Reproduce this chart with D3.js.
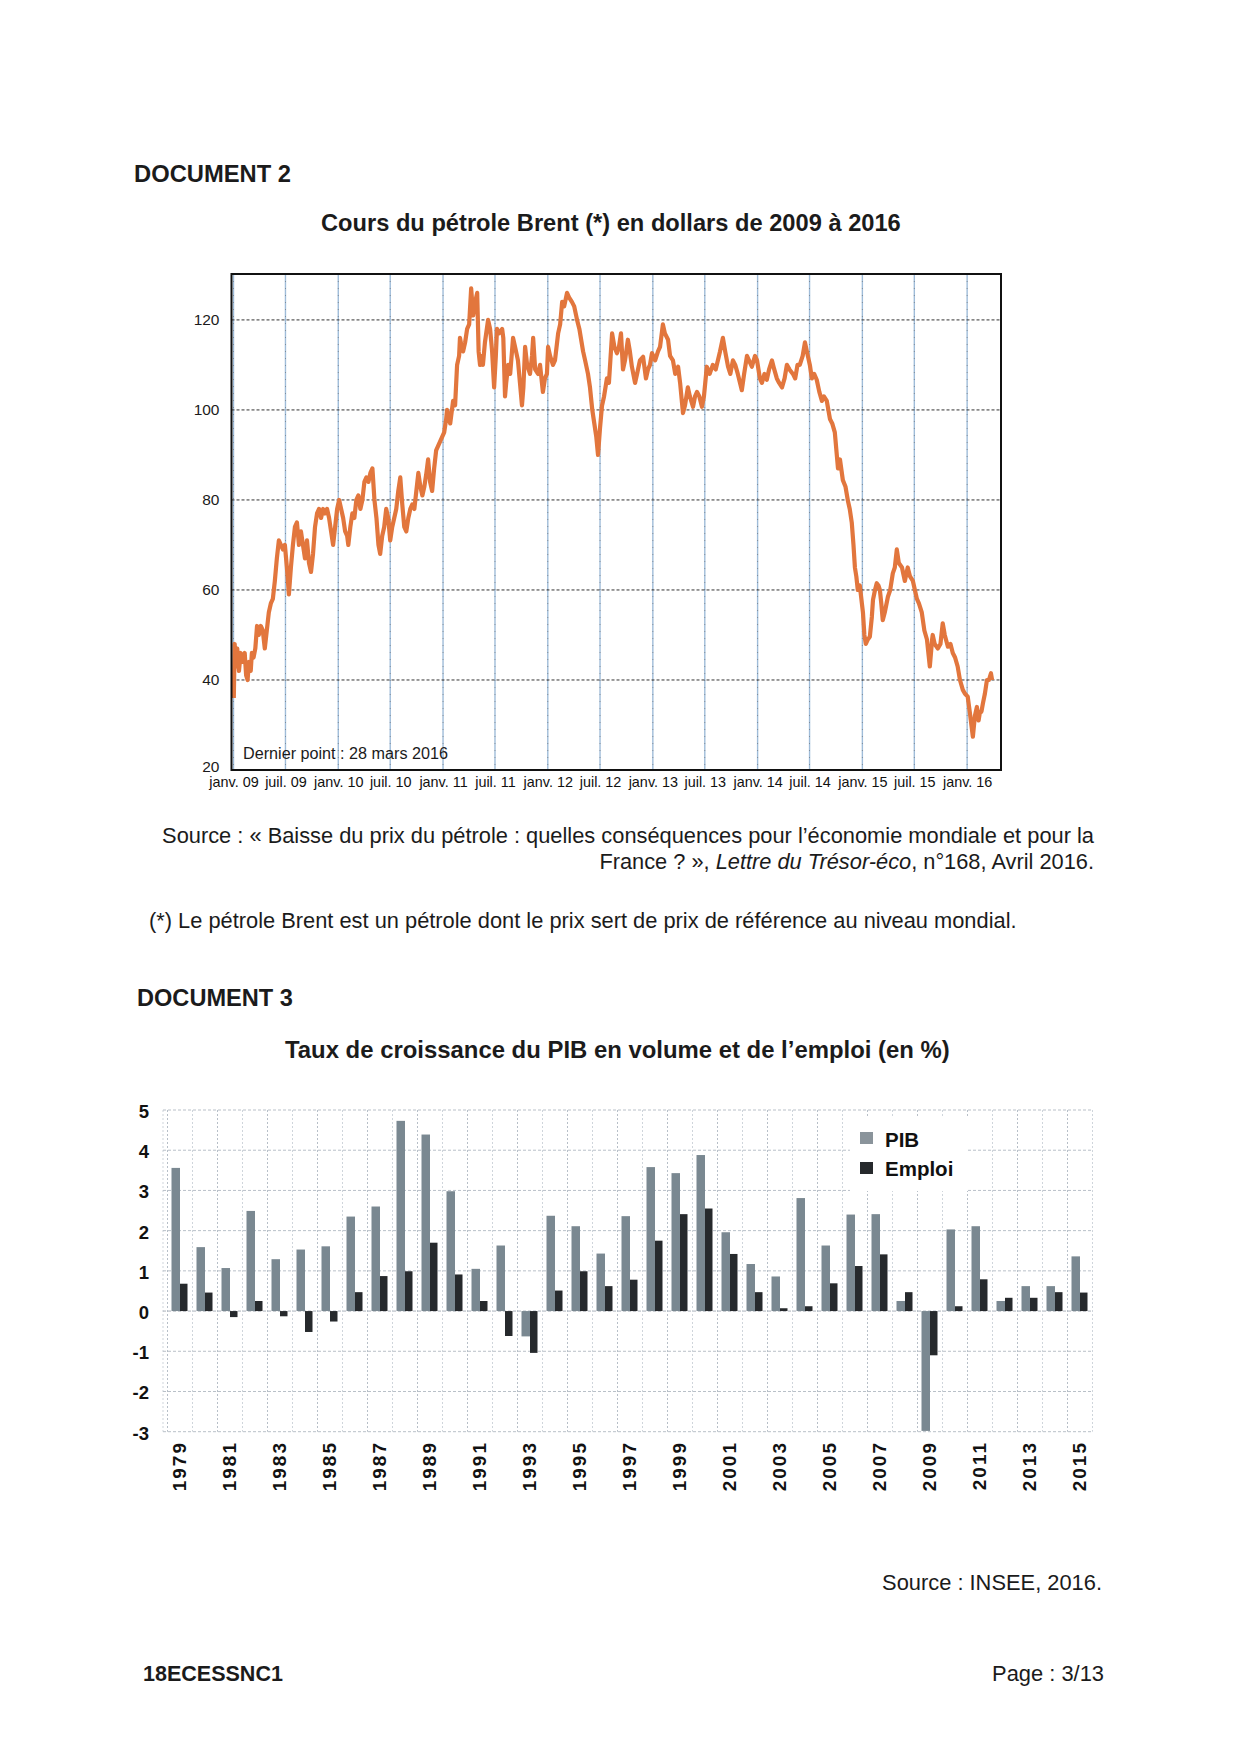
<!DOCTYPE html>
<html><head><meta charset="utf-8">
<script src="https://cdn.jsdelivr.net/npm/d3@7"></script>
<style>
body{margin:0;background:#fff}
svg{display:block}
text{font-family:"Liberation Sans",Arial,Helvetica,sans-serif}
</style>
</head><body>
<svg id="page" width="1240" height="1753"></svg>
<script>
// ---------------- DATA : Brent (USD) ----------------
const brentDates = [
"2009-01-02","2009-01-05","2009-01-09","2009-01-14","2009-01-20","2009-01-26","2009-02-02","2009-02-09","2009-02-14","2009-02-19","2009-02-24",
"2009-03-02","2009-03-06","2009-03-12","2009-03-18","2009-03-24","2009-03-30","2009-04-06","2009-04-13","2009-04-20","2009-04-27",
"2009-05-04","2009-05-11","2009-05-18","2009-05-25","2009-06-01","2009-06-08","2009-06-15","2009-06-22","2009-06-29",
"2009-07-06","2009-07-13","2009-07-20","2009-07-27","2009-08-03","2009-08-10","2009-08-17","2009-08-24","2009-08-31",
"2009-09-07","2009-09-14","2009-09-21","2009-09-28","2009-10-05","2009-10-12","2009-10-19","2009-10-26",
"2009-11-02","2009-11-09","2009-11-16","2009-11-23","2009-11-30","2009-12-07","2009-12-14","2009-12-21","2009-12-28",
"2010-01-04","2010-01-11","2010-01-18","2010-01-25","2010-02-01","2010-02-05","2010-02-12","2010-02-19","2010-02-26",
"2010-03-05","2010-03-12","2010-03-19","2010-03-26","2010-04-02","2010-04-09","2010-04-16","2010-04-23","2010-04-30",
"2010-05-07","2010-05-14","2010-05-21","2010-05-27","2010-06-03","2010-06-10","2010-06-17","2010-06-24",
"2010-07-01","2010-07-08","2010-07-15","2010-07-22","2010-07-29","2010-08-05","2010-08-12","2010-08-19","2010-08-26",
"2010-09-02","2010-09-09","2010-09-16","2010-09-23","2010-09-30","2010-10-07","2010-10-14","2010-10-21","2010-10-28",
"2010-11-04","2010-11-10","2010-11-17","2010-11-24","2010-12-01","2010-12-08","2010-12-15","2010-12-22","2010-12-29",
"2011-01-05","2011-01-12","2011-01-15","2011-01-26","2011-02-05","2011-02-12","2011-02-19","2011-02-26",
"2011-03-01","2011-03-07","2011-03-12","2011-03-19","2011-03-26","2011-04-02","2011-04-09","2011-04-16","2011-04-23","2011-04-30",
"2011-05-05","2011-05-10","2011-05-17","2011-05-20","2011-05-27","2011-06-07","2011-06-14","2011-06-21","2011-06-28",
"2011-07-04","2011-07-08","2011-07-15","2011-07-26","2011-07-30","2011-08-05","2011-08-09","2011-08-16","2011-08-23",
"2011-09-02","2011-09-09","2011-09-19","2011-09-26","2011-10-03","2011-10-08","2011-10-14","2011-10-21","2011-10-31",
"2011-11-07","2011-11-11","2011-11-18","2011-11-28","2011-12-05","2011-12-15","2011-12-22","2011-12-29",
"2012-01-02","2012-01-09","2012-01-19","2012-01-26","2012-02-06","2012-02-13","2012-02-20","2012-02-27",
"2012-03-08","2012-03-15","2012-03-25","2012-04-02","2012-04-12","2012-04-20","2012-05-03","2012-05-10","2012-05-20","2012-05-27",
"2012-06-04","2012-06-11","2012-06-18","2012-06-24","2012-07-01","2012-07-08","2012-07-15","2012-07-25",
"2012-08-01","2012-08-12","2012-08-20","2012-08-29","2012-09-05","2012-09-12","2012-09-19","2012-09-26",
"2012-10-06","2012-10-13","2012-10-20","2012-10-31","2012-11-07","2012-11-17","2012-11-28","2012-12-08","2012-12-15","2012-12-22","2012-12-29",
"2013-01-09","2013-01-19","2013-01-26","2013-02-05","2013-02-12","2013-02-23","2013-03-02","2013-03-12","2013-03-20","2013-03-30",
"2013-04-06","2013-04-16","2013-04-23","2013-05-03","2013-05-10","2013-05-21","2013-05-28","2013-06-04","2013-06-12","2013-06-21","2013-06-28",
"2013-07-08","2013-07-18","2013-07-29","2013-08-08","2013-08-23","2013-09-02","2013-09-10","2013-09-20","2013-09-28",
"2013-10-07","2013-10-15","2013-10-24","2013-11-07","2013-11-15","2013-11-25","2013-12-02","2013-12-12","2013-12-23","2013-12-30",
"2014-01-09","2014-01-16","2014-01-25","2014-02-02","2014-02-10","2014-02-20","2014-02-28","2014-03-09","2014-03-17","2014-03-27",
"2014-04-05","2014-04-13","2014-04-22","2014-05-04","2014-05-12","2014-05-20","2014-05-28","2014-06-07","2014-06-15","2014-06-25",
"2014-07-02","2014-07-09","2014-07-17","2014-07-26","2014-08-04","2014-08-13","2014-08-20","2014-08-30","2014-09-10","2014-09-18","2014-09-27",
"2014-10-08","2014-10-15","2014-10-25","2014-11-03","2014-11-11","2014-11-18","2014-11-25","2014-12-01","2014-12-06","2014-12-11","2014-12-16","2014-12-23",
"2015-01-03","2015-01-08","2015-01-13","2015-01-20","2015-01-27","2015-02-03","2015-02-07","2015-02-14","2015-02-20","2015-02-26",
"2015-03-03","2015-03-08","2015-03-13","2015-03-20","2015-03-31","2015-04-08","2015-04-17","2015-04-24","2015-05-01","2015-05-08","2015-05-19","2015-05-29",
"2015-06-08","2015-06-16","2015-06-26","2015-07-03","2015-07-10","2015-07-17","2015-07-27","2015-08-05","2015-08-14","2015-08-24",
"2015-09-01","2015-09-03","2015-09-10","2015-09-21","2015-09-30","2015-10-08","2015-10-15","2015-10-26","2015-11-04","2015-11-12","2015-11-20","2015-11-29",
"2015-12-07","2015-12-17","2015-12-24",
"2016-01-03","2016-01-10","2016-01-21","2016-01-28","2016-02-04","2016-02-10","2016-02-14","2016-02-20","2016-02-25",
"2016-03-03","2016-03-10","2016-03-17","2016-03-24","2016-03-28"
];
const brentValues = [
36,48,43,47,42,46,44,46,41,40,44,
42,46,45,47,52,50,52,51,47,51,
55,57,58,62,67,71,70,69,70,
65,59,65,70,74,75,70,73,70,
67,71,66,64,68,74,77,78,
76,78,77,78,76,73,70,74,78,
80,78,76,73,72,70,74,77,76,
80,81,78,80,84,85,84,86,87,
80,76,70,68,72,74,78,76,
71,74,76,78,82,85,79,74,73,
76,78,79,78,82,86,83,81,83,
86,89,84,82,87,91,92,93,94,
95,98,100,97,102,101,110,112,
116,114,113,115,118,119,127,121,124,126,
113,110,112,110,115,120,118,113,105,
112,118,117,118,116,103,106,110,108,
116,114,111,106,101,105,114,110,108,
112,116,109,108,110,104,107,108,
114,112,110,111,117,119,124,123,
126,125,124,123,120,118,113,111,108,105,
100,97,94,90,96,101,103,107,
106,117,114,112.6,114,117,109,111,
115.6,113,109.6,106,108,111,111.8,107,109,110,112.6,
111,113,114,119,117,115.6,112,111,108,109.6,
106,99.3,101,105,103,100.7,103,104,103,100.7,103,
109.6,108,110,109,113,116,113,109.6,108,
111,110,108,104.4,108,112,111,109.6,112,111,
107,106,108,106.7,109,111,109,107,106,105,
107,110,109,108,107,110,110,112,115,112,
110,107,108,106.7,104,102,103,102,98,97,95,
87,89,84.4,83,80,78,75,70,65,63,60,61,
55,50,48,49,49.6,54,57.8,60,61.5,61,
60,57,53.3,55,58.5,60,63.7,65,69,66,65,62,
65,63,62,60,58,57,55,51,49,43,
49,50,48,47,48,52.6,50,47.4,48,46,45,43,
40,37.8,37,
36.3,33,27.4,32,34,31,32.6,33,34.8,
37,40,40,41.5,40
];
const brentYTicks = [20, 40, 60, 80, 100, 120];
const brentTickDates = ["2009-01-01","2009-07-01","2010-01-01","2010-07-01","2011-01-01","2011-07-01","2012-01-01","2012-07-01",
                        "2013-01-01","2013-07-01","2014-01-01","2014-07-01","2015-01-01","2015-07-01","2016-01-01"];
const brentTickLabels = ["janv. 09","juil. 09","janv. 10","juil. 10","janv. 11","juil. 11","janv. 12","juil. 12",
                         "janv. 13","juil. 13","janv. 14","juil. 14","janv. 15","juil. 15","janv. 16"];

// ---------------- DATA : PIB / Emploi (%) ----------------
const years = [1979,1980,1981,1982,1983,1984,1985,1986,1987,1988,1989,1990,1991,1992,1993,1994,1995,1996,1997,
               1998,1999,2000,2001,2002,2003,2004,2005,2006,2007,2008,2009,2010,2011,2012,2013,2014,2015];
const pib    = [3.56,1.59,1.07,2.49,1.29,1.53,1.61,2.35,2.60,4.73,4.39,2.98,1.05,1.63,-0.63,2.37,2.11,1.43,2.36,
                3.58,3.43,3.88,1.96,1.17,0.86,2.81,1.63,2.40,2.41,0.25,-2.98,2.03,2.11,0.25,0.62,0.62,1.36];
const emploi = [0.68,0.46,-0.15,0.25,-0.13,-0.52,-0.26,0.47,0.87,0.99,1.70,0.91,0.25,-0.62,-1.04,0.51,0.99,0.62,0.78,
                1.75,2.41,2.55,1.42,0.47,0.07,0.12,0.69,1.12,1.41,0.47,-1.10,0.12,0.79,0.33,0.33,0.47,0.46];
const barYTicks = [-3,-2,-1,0,1,2,3,4,5];
const yearLabels = [1979,1981,1983,1985,1987,1989,1991,1993,1995,1997,1999,2001,2003,2005,2007,2009,2011,2013,2015];
const seriesNames = ["PIB","Emploi"];

// ---------------- DRAW ----------------
const svg = d3.select("#page");
const parse = d3.timeParse("%Y-%m-%d");
const ink = "#1b1b1b";
const FONT = '"Liberation Sans",Arial,sans-serif';

function fit(t, w){
  const L = t.node().getComputedTextLength();
  const fs = parseFloat(t.attr("font-size"));
  if (L > 0) t.attr("font-size", (fs * w / L).toFixed(2));
  return t;
}
function txt(x, y, s, size, opts = {}){
  const t = svg.append("text").attr("x", x).attr("y", y).attr("font-size", size)
    .attr("fill", ink).attr("text-anchor", opts.anchor || "start")
    .attr("font-weight", opts.bold ? "bold" : "normal").text(s);
  if (opts.w) fit(t, opts.w);
  return t;
}

// Page texts
txt(134, 182, "DOCUMENT 2", 21, {bold:true, w:157});
txt(321, 231, "Cours du pétrole Brent (*) en dollars de 2009 à 2016", 21, {bold:true, w:580});

{
  const t = svg.append("text").attr("x", 1094).attr("y", 843).attr("font-size", 20)
    .attr("fill", ink).attr("text-anchor", "end")
    .text("Source : « Baisse du prix du pétrole : quelles conséquences pour l’économie mondiale et pour la");
  fit(t, 932);
  const t2 = svg.append("text").attr("x", 1094).attr("y", 869).attr("font-size", 20)
    .attr("fill", ink).attr("text-anchor", "end");
  t2.append("tspan").text("France ? », ");
  t2.append("tspan").attr("font-style", "italic").text("Lettre du Trésor-éco");
  t2.append("tspan").text(", n°168, Avril 2016.");
  fit(t2, 495);
}
txt(149, 928, "(*) Le pétrole Brent est un pétrole dont le prix sert de prix de référence au niveau mondial.", 20, {w:868});
txt(137, 1006, "DOCUMENT 3", 21, {bold:true, w:156});
txt(285, 1058, "Taux de croissance du PIB en volume et de l’emploi (en %)", 21, {bold:true, w:665});
txt(1102, 1590, "Source : INSEE, 2016.", 19, {anchor:"end", w:220});
txt(143, 1681, "18ECESSNC1", 19, {bold:true, w:140});
txt(1104, 1681, "Page : 3/13", 19, {anchor:"end", w:112});

// ---------- Chart 1 : Brent ----------
const c1 = {left:231.5, right:1001, top:274, bottom:770};
const x1 = d3.scaleTime().domain([parse("2008-12-25"), parse("2016-04-28")]).range([c1.left, c1.right]);
const y1 = d3.scaleLinear().domain([20, 130.2]).range([c1.bottom, c1.top]);
const g1 = svg.append("g");

const tickDates = brentTickDates.map(parse);
// vertical gridlines
g1.selectAll("line.vg").data(tickDates).join("line")
  .attr("x1", d => x1(d)).attr("x2", d => x1(d)).attr("y1", c1.top).attr("y2", c1.bottom)
  .attr("stroke", "#9fbcd9").attr("stroke-width", 1.4);
g1.selectAll("line.vg2").data(tickDates).join("line")
  .attr("x1", d => x1(d)).attr("x2", d => x1(d)).attr("y1", c1.top).attr("y2", c1.bottom)
  .attr("stroke", "#555").attr("stroke-width", 0.8).attr("stroke-dasharray", "1,6").attr("opacity", 0.6);
// horizontal gridlines
g1.selectAll("line.hg").data(brentYTicks.filter(v => v > 20)).join("line")
  .attr("x1", c1.left).attr("x2", c1.right).attr("y1", d => y1(d)).attr("y2", d => y1(d))
  .attr("stroke", "#333").attr("stroke-width", 1).attr("stroke-dasharray", "3,2");

// line
const brent = brentDates.map((d, i) => ({date: parse(d), value: brentValues[i]}));
g1.append("path").datum(brent)
  .attr("d", d3.line().x(d => x1(d.date)).y(d => y1(d.value)))
  .attr("fill", "none").attr("stroke", "#e2763d").attr("stroke-width", 4.2)
  .attr("stroke-linejoin", "round");

// frame
g1.append("rect").attr("x", c1.left).attr("y", c1.top)
  .attr("width", c1.right - c1.left).attr("height", c1.bottom - c1.top)
  .attr("fill", "none").attr("stroke", "#111").attr("stroke-width", 2);

// axes
const ay1 = g1.append("g").attr("transform", `translate(${c1.left},0)`)
  .call(d3.axisLeft(y1).tickValues(brentYTicks).tickSize(0).tickPadding(12));
ay1.select(".domain").remove();
ay1.selectAll("text").attr("font-size", 15.5).attr("fill", ink).attr("font-family", FONT)
  .attr("dy", d => d === 20 ? "0.1em" : "0.32em");

const ax1 = g1.append("g").attr("transform", `translate(0,${c1.bottom})`)
  .call(d3.axisBottom(x1).tickValues(tickDates).tickFormat((d, i) => brentTickLabels[i]).tickSize(0).tickPadding(7));
ax1.select(".domain").remove();
ax1.selectAll("text").attr("font-size", 14.4).attr("fill", "#111").attr("font-family", FONT);

txt(243, 759, "Dernier point : 28 mars 2016", 16, {w:205});

// ---------- Chart 2 : bars ----------
const c2 = {left:163, right:1093};
const x2 = d3.scaleBand().domain(years).range([167.5, 1092.5]);
const y2 = d3.scaleLinear().domain([-3, 5]).range([1431.7, 1110]);
const g2 = svg.append("g");
const bw = x2.bandwidth();

// gridlines
const bounds = years.map(y => x2(y)).concat([x2(years[years.length - 1]) + bw]);
g2.selectAll("line.vg").data([c2.left].concat(bounds)).join("line")
  .attr("x1", d => d).attr("x2", d => d).attr("y1", y2(5)).attr("y2", y2(-3))
  .attr("stroke", (d, i) => i % 2 === 1 ? "#b7bfc8" : "#cfd5db").attr("stroke-width", 1)
  .attr("stroke-dasharray", "2,2");
g2.selectAll("line.hg").data(barYTicks).join("line")
  .attr("x1", c2.left).attr("x2", c2.right).attr("y1", d => y2(d)).attr("y2", d => y2(d))
  .attr("stroke", d => d === 0 ? "#aab2ba" : "#b9c0c8").attr("stroke-width", 1)
  .attr("stroke-dasharray", "3,2");

// bars
const cx = y => x2(y) + bw / 2;
g2.selectAll("rect.pib").data(years).join("rect")
  .attr("x", (d) => cx(d) - 8.5).attr("width", 8.5)
  .attr("y", (d, i) => Math.min(y2(pib[i]), y2(0)))
  .attr("height", (d, i) => Math.abs(y2(pib[i]) - y2(0)))
  .attr("fill", "#7a8891");
g2.selectAll("rect.emp").data(years).join("rect")
  .attr("x", (d) => cx(d)).attr("width", 7.5)
  .attr("y", (d, i) => Math.min(y2(emploi[i]), y2(0)))
  .attr("height", (d, i) => Math.abs(y2(emploi[i]) - y2(0)))
  .attr("fill", "#26292c");

// y axis (hyphen-minus like the reference)
const ay2 = g2.append("g").attr("transform", `translate(${c2.left},0)`)
  .call(d3.axisLeft(y2).tickValues(barYTicks).tickFormat(d => String(d)).tickSize(0).tickPadding(14));
ay2.select(".domain").remove();
ay2.selectAll("text").attr("font-size", 18.5).attr("font-weight", "bold").attr("fill", "#111")
  .attr("dy", "0.4em").attr("font-family", FONT);

// x labels (rotated)
g2.selectAll("text.yl").data(yearLabels).join("text")
  .attr("transform", d => `translate(${cx(d) - 0.5},1441) rotate(-90)`)
  .attr("dy", "0.36em").attr("text-anchor", "end")
  .attr("font-size", 19).attr("letter-spacing", 2).attr("font-weight", "bold").attr("fill", "#111")
  .text(d => d);

// legend
g2.append("rect").attr("x", 850).attr("y", 1118).attr("width", 118).attr("height", 73).attr("fill", "#fff");
const legColors = ["#8a949b", "#26292c"];
seriesNames.forEach((n, i) => {
  g2.append("rect").attr("x", 860).attr("y", 1132 + i * 30).attr("width", 13).attr("height", 12)
    .attr("fill", legColors[i]);
  g2.append("text").attr("x", 885).attr("y", 1147 + i * 29).attr("font-size", 20.5)
    .attr("font-weight", "bold").attr("fill", "#111").text(n);
});
</script>
</body></html>
